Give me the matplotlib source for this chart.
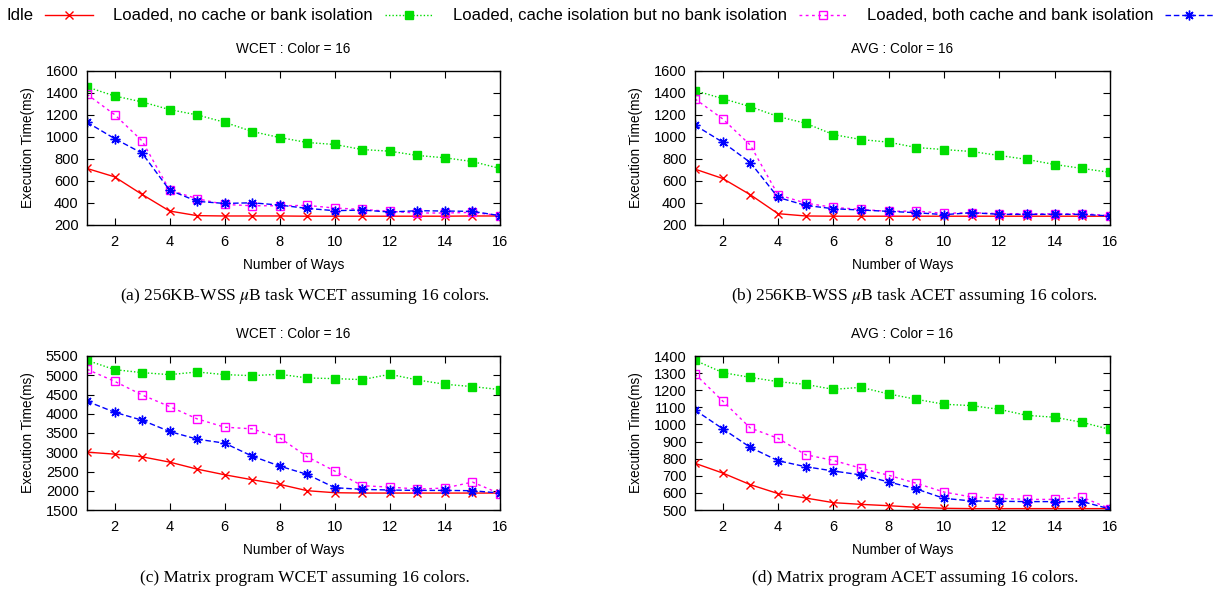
import matplotlib
matplotlib.use("Agg")
import matplotlib.pyplot as plt
import numpy as np

ways = list(range(1, 17))

# (a) 256KB-WSS uB task WCET
a_idle = [714, 638, 478, 327, 285, 282, 282, 282, 280, 280, 280, 280, 280, 280, 282, 282]
a_nocache = [1455, 1373, 1319, 1249, 1201, 1134, 1050, 995, 950, 932, 886, 871, 832, 811, 777, 714]
a_cache = [1388, 1204, 965, 517, 439, 387, 375, 375, 378, 354, 342, 324, 309, 309, 315, 285]
a_both = [1134, 986, 853, 517, 415, 396, 402, 381, 351, 330, 336, 318, 330, 327, 324, 285]

# (b) 256KB-WSS uB task ACET
b_idle = [708, 623, 475, 303, 282, 280, 280, 280, 280, 280, 280, 280, 280, 280, 280, 280]
b_nocache = [1422, 1349, 1276, 1186, 1125, 1022, 977, 953, 904, 886, 868, 832, 796, 750, 714, 678]
b_cache = [1346, 1165, 926, 475, 399, 360, 342, 324, 327, 306, 312, 303, 303, 300, 303, 285]
b_both = [1107, 953, 768, 451, 378, 348, 336, 324, 312, 294, 312, 297, 297, 297, 297, 282]

# (c) Matrix program WCET
c_idle = [3003, 2951, 2882, 2744, 2562, 2415, 2286, 2165, 2001, 1949, 1940, 1940, 1940, 1940, 1940, 1940]
c_nocache = [5388, 5146, 5068, 5016, 5085, 5016, 4990, 5025, 4930, 4912, 4887, 5025, 4878, 4766, 4705, 4628]
c_cache = [5154, 4843, 4489, 4187, 3867, 3651, 3608, 3375, 2882, 2510, 2130, 2096, 2044, 2070, 2225, 1923]
c_both = [4325, 4040, 3832, 3539, 3340, 3236, 2899, 2640, 2424, 2079, 2036, 2018, 2009, 2009, 2001, 1940]

# (d) Matrix program ACET
d_idle = [773, 716, 648, 596, 570, 543, 533, 525, 516, 510, 508, 508, 508, 508, 508, 508]
d_nocache = [1375, 1303, 1275, 1250, 1234, 1205, 1217, 1178, 1147, 1118, 1110, 1088, 1053, 1042, 1012, 971]
d_cache = [1295, 1137, 979, 919, 823, 790, 744, 703, 656, 605, 576, 568, 562, 562, 574, 508]
d_both = [1084, 975, 866, 788, 753, 728, 705, 664, 623, 568, 553, 551, 549, 549, 549, 506]

series_labels = [
    "Idle",
    "Loaded, no cache or bank isolation",
    "Loaded, cache isolation but no bank isolation",
    "Loaded, both cache and bank isolation",
]

titles = ["WCET : Color = 16", "AVG : Color = 16", "WCET : Color = 16", "AVG : Color = 16"]
captions = [
    r"(a) 256KB-WSS $\mu$B task WCET assuming 16 colors.",
    r"(b) 256KB-WSS $\mu$B task ACET assuming 16 colors.",
    "(c) Matrix program WCET assuming 16 colors.",
    "(d) Matrix program ACET assuming 16 colors.",
]
yticks = [
    np.arange(200, 1601, 200),
    np.arange(200, 1601, 200),
    np.arange(1500, 5501, 500),
    np.arange(500, 1401, 100),
]
panels = [
    (a_idle, a_nocache, a_cache, a_both),
    (b_idle, b_nocache, b_cache, b_both),
    (c_idle, c_nocache, c_cache, c_both),
    (d_idle, d_nocache, d_cache, d_both),
]

styles = [
    dict(color="#ff0000", linestyle="-", marker="x", markersize=6, markeredgewidth=1.0),
    dict(color="#00dd00", linestyle=(0, (1, 1.5)), marker="s", markersize=5.5,
         markerfacecolor="#00dd00", markeredgecolor="#00dd00"),
    dict(color="#ff00ff", linestyle=(0, (2, 2.5)), marker="s", markersize=6,
         markerfacecolor="none", markeredgewidth=1.0),
    dict(color="#0000ff", linestyle=(0, (4, 2)), marker=(8, 2, 0), markersize=7,
         markeredgewidth=1.0),
]

plt.rcParams["font.family"] = ["Liberation Sans", "DejaVu Sans"]
plt.rcParams["mathtext.fontset"] = "stix"

fig = plt.figure(figsize=(12.2, 5.95), dpi=100)
W, H = 1220, 595
# axes boxes in pixels: left, top, right, bottom
boxes = [(87, 71, 500, 225), (695, 71, 1110, 225), (87, 356, 500, 510), (695, 356, 1110, 510)]
cap_pos = [(305, 296), (915, 296), (305, 578), (915, 578)]

handles = []
for i, (box, data) in enumerate(zip(boxes, panels)):
    l, t, r, b = box
    ax = fig.add_axes([l / W, 1 - b / H, (r - l) / W, (b - t) / H])
    for j, (vals, st) in enumerate(zip(data, styles)):
        ln, = ax.plot(ways, vals, linewidth=1.0, **st)
        if i == 0:
            handles.append(ln)
    ax.set_xlim(1, 16)
    ax.set_ylim(yticks[i][0], yticks[i][-1])
    ax.set_xticks(range(2, 17, 2))
    ax.set_yticks(yticks[i])
    ax.tick_params(direction="in", top=True, right=True, labelsize=10.5, length=5)
    ax.tick_params(axis="x", pad=7)
    ax.tick_params(axis="y", pad=6)
    ax.set_title(titles[i], fontsize=9.8, pad=13)
    ax.set_xlabel("Number of Ways", fontsize=9.8, labelpad=7)
    ax.set_ylabel("Execution Time(ms)", fontsize=9.8, labelpad=8)
    for s in ax.spines.values():
        s.set_linewidth(1.0)
    fig.text(cap_pos[i][0] / W, 1 - cap_pos[i][1] / H, captions[i], ha="center", va="center",
             fontsize=12.5, family="Liberation Serif")

fig.legend(handles, series_labels, loc="center", bbox_to_anchor=(0.5, 1 - 16 / H), ncol=4,
           markerfirst=False, frameon=False, fontsize=12, handlelength=2.9,
           columnspacing=1.2, handletextpad=0.7, borderaxespad=0, borderpad=0)

fig.savefig("out.png", dpi=100)
